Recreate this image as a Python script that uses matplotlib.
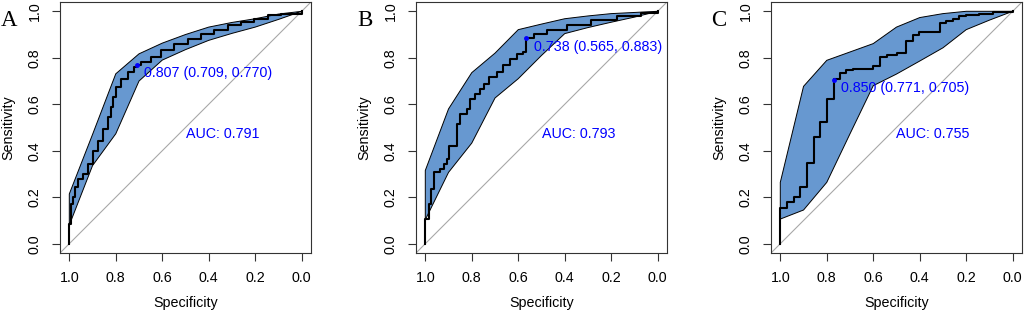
import matplotlib
matplotlib.use("Agg")
import matplotlib.pyplot as plt
import numpy as np

plt.rcParams['font.family'] = ['Liberation Sans', 'DejaVu Sans']

# ---------------- data ----------------
panel_labels = ["A", "B", "C"]
auc_texts = ["AUC: 0.791", "AUC: 0.793", "AUC: 0.755"]
thr_texts = ["0.807 (0.709, 0.770)", "0.738 (0.565, 0.883)", "0.850 (0.771, 0.705)"]
thr_spec = [0.709, 0.565, 0.771]
thr_sens = [0.770, 0.883, 0.705]

ci_spec = [1.0, 0.9, 0.8, 0.7, 0.6, 0.5, 0.4, 0.3, 0.2, 0.1, 0.0]
a_ci_upper = [0.214, 0.47, 0.731, 0.817, 0.863, 0.90, 0.932, 0.952, 0.968, 0.988, 1.0]
a_ci_lower = [0.08, 0.336, 0.473, 0.70, 0.79, 0.835, 0.875, 0.905, 0.932, 0.965, 1.0]
b_ci_upper = [0.315, 0.58, 0.736, 0.82, 0.921, 0.945, 0.968, 0.98, 0.99, 0.995, 1.0]
b_ci_lower = [0.103, 0.307, 0.433, 0.627, 0.71, 0.81, 0.904, 0.93, 0.953, 0.975, 1.0]
c_ci_upper = [0.264, 0.677, 0.789, 0.825, 0.861, 0.932, 0.973, 0.99, 1.0, 1.0, 1.0]
c_ci_lower = [0.106, 0.145, 0.264, 0.473, 0.68, 0.73, 0.786, 0.843, 0.921, 0.962, 1.0]

a_spec = [1.0, 1.0, 0.991, 0.984, 0.977, 0.963, 0.941, 0.92, 0.898, 0.877, 0.855, 0.834,
          0.82, 0.812, 0.798, 0.777, 0.748, 0.72, 0.709, 0.69, 0.648, 0.605, 0.548, 0.49,
          0.433, 0.376, 0.319, 0.262, 0.205, 0.147, 0.09, 0.0]
a_sens = [0.0, 0.085, 0.171, 0.2, 0.243, 0.279, 0.30, 0.343, 0.401, 0.444, 0.494, 0.544,
          0.588, 0.631, 0.674, 0.71, 0.738, 0.76, 0.770, 0.781, 0.803, 0.832, 0.861, 0.882,
          0.904, 0.918, 0.94, 0.954, 0.968, 0.983, 0.99, 1.0]

b_spec = [1.0, 1.0, 0.986, 0.976, 0.964, 0.936, 0.921, 0.907, 0.9, 0.864, 0.85, 0.821,
          0.807, 0.785, 0.764, 0.749, 0.728, 0.692, 0.664, 0.635, 0.606, 0.578, 0.565,
          0.532, 0.475, 0.389, 0.289, 0.174, 0.074, 0.0]
b_sens = [0.0, 0.106, 0.171, 0.236, 0.307, 0.322, 0.343, 0.365, 0.422, 0.516, 0.559, 0.58,
          0.624, 0.645, 0.667, 0.688, 0.717, 0.738, 0.767, 0.796, 0.818, 0.825, 0.883,
          0.904, 0.918, 0.94, 0.961, 0.978, 0.993, 1.0]

c_spec = [1.0, 1.0, 0.971, 0.943, 0.914, 0.886, 0.857, 0.829, 0.80, 0.771, 0.743, 0.718,
          0.686, 0.60, 0.571, 0.543, 0.5, 0.457, 0.429, 0.403, 0.314, 0.286, 0.257, 0.229,
          0.2, 0.143, 0.086, 0.0]
c_sens = [0.0, 0.154, 0.181, 0.2, 0.246, 0.348, 0.461, 0.523, 0.621, 0.707, 0.734, 0.746,
          0.753, 0.763, 0.803, 0.81, 0.82, 0.872, 0.897, 0.911, 0.95, 0.958, 0.968, 0.978,
          0.985, 0.99, 0.996, 1.0]

curves = [(a_spec, a_sens), (b_spec, b_sens), (c_spec, c_sens)]
cis = [(a_ci_upper, a_ci_lower), (b_ci_upper, b_ci_lower), (c_ci_upper, c_ci_lower)]
ticks = [1.0, 0.8, 0.6, 0.4, 0.2, 0.0]
tick_labels = ["1.0", "0.8", "0.6", "0.4", "0.2", "0.0"]
yticks = [0.0, 0.2, 0.4, 0.6, 0.8, 1.0]
ytick_labels = ["0.0", "0.2", "0.4", "0.6", "0.8", "1.0"]

# ---------------- figure ----------------
W, H = 1024, 313
fig = plt.figure(figsize=(W / 100, H / 100), dpi=100)

lefts = [60, 416, 771]
ax_w, ax_h = 251, 251
ax_top = 2
fill_color = '#6798d0'
fs = 10.3

for i in range(3):
    ax = fig.add_axes([lefts[i] / W, (H - ax_top - ax_h) / H, ax_w / W, ax_h / H])
    ax.set_xlim(1.04, -0.04)
    ax.set_ylim(-0.04, 1.04)
    # diagonal
    ax.axline((1, 0), (0, 1), color='#a8a8a8', lw=0.8, zorder=1)
    up, lo = cis[i]
    poly_x = list(ci_spec) + list(ci_spec[::-1])
    poly_y = list(up) + list(lo[::-1])
    ax.fill(poly_x, poly_y, facecolor=fill_color, edgecolor='black', lw=0.7, zorder=2)
    sx, sy = curves[i]
    ax.plot(sx, sy, drawstyle='steps-post', color='black', lw=1.5, zorder=3)
    ax.plot([thr_spec[i]], [thr_sens[i]], 'o', color='blue', ms=2.5, zorder=4)
    ax.annotate(thr_texts[i], (thr_spec[i], thr_sens[i]), xytext=(5.2, -6.2),
                textcoords='offset points', ha='left', va='center',
                color='blue', fontsize=fs, zorder=5)
    ax.text(0.5, 0.473, auc_texts[i], ha='left', va='center', color='blue', fontsize=fs)

    ax.set_xticks(ticks)
    ax.set_xticklabels(tick_labels)
    ax.set_yticks(yticks)
    ax.set_yticklabels(ytick_labels, rotation=90, va='center')
    ax.tick_params(axis='both', direction='out', length=5.5, width=0.8,
                   color='#333333', labelsize=fs, pad=7.5)
    for s in ax.spines.values():
        s.set_color('#333333')
        s.set_linewidth(0.8)
    ax.set_xlabel('Specificity', fontsize=fs, labelpad=8)
    ax.set_ylabel('Sensitivity', fontsize=fs, labelpad=9)

letter_x = [9, 365, 719]
for i in range(3):
    fig.text(letter_x[i] / W, 1 - 21 / H, panel_labels[i], ha='center', va='center',
             fontsize=16.5, family=['Liberation Serif', 'DejaVu Serif'])

fig.savefig('out.png', dpi=100)
